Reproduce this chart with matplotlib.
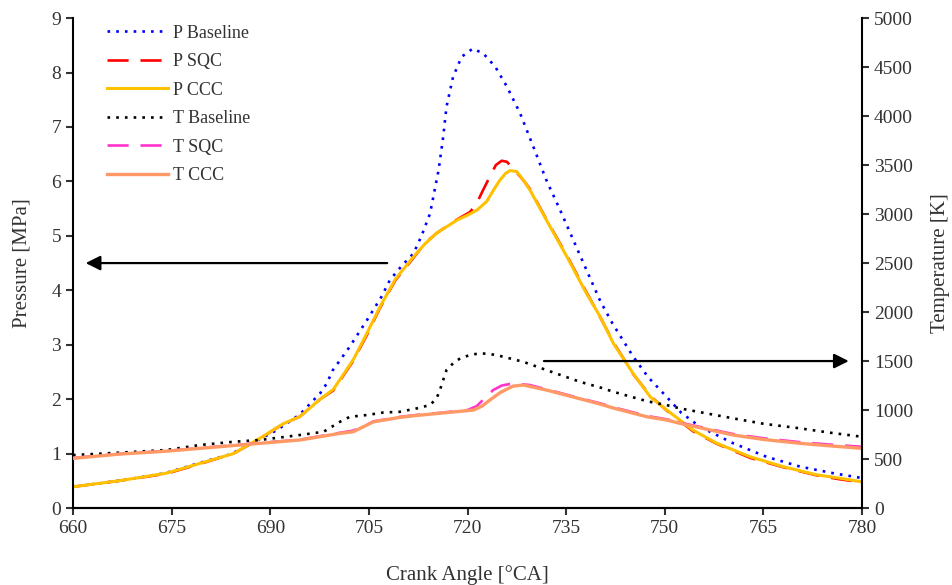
import matplotlib
matplotlib.use('Agg')
import matplotlib.pyplot as plt

plt.rcParams['font.family'] = ['Liberation Serif', 'DejaVu Serif']

# Pressure curves [MPa]
p_base_ang = [660, 667, 674, 679, 684, 691, 694.5, 697.6, 698.6, 699.5, 702, 704.7, 706.9, 708.2,
              710, 711.8, 713, 714.3, 715.6, 716.3, 716.8, 717.8, 719.1, 720.8, 722.4, 724.2,
              726, 728, 730, 732, 734.1, 736.1, 738.1, 740.2, 742, 745.2, 747.5, 750.3, 752.5,
              755.4, 760.4, 765.5, 770.6, 775.6, 780]
p_base = [0.39, 0.50, 0.64, 0.82, 0.99, 1.43, 1.72, 2.11, 2.29, 2.53, 2.95, 3.45, 3.88, 4.19,
          4.45, 4.68, 5.00, 5.41, 6.21, 6.82, 7.37, 7.92, 8.29, 8.44, 8.35, 8.11,
          7.74, 7.25, 6.64, 6.02, 5.47, 4.92, 4.37, 3.80, 3.40, 2.78, 2.40, 2.04, 1.75,
          1.49, 1.19, 0.94, 0.76, 0.64, 0.55]

p_ccc_ang = [660, 667, 674.2, 679.3, 684.4, 688.4, 692, 694.5, 697.6, 699.6, 702.6, 704.7, 706.7,
             709, 711.8, 713.5, 715.3, 718.4, 720, 721.4, 722.9, 724, 724.9, 725.8, 726.5,
             727.5, 728.5, 729.5, 732, 735.1, 738.1, 740.2, 742.2, 745.2, 747.8, 750.3,
             754.3, 757.9, 763, 768, 773.1, 776.5, 780]
p_ccc = [0.39, 0.50, 0.64, 0.82, 1.00, 1.28, 1.55, 1.68, 2.00, 2.18, 2.72, 3.21, 3.70,
         4.20, 4.62, 4.85, 5.05, 5.29, 5.38, 5.47, 5.63, 5.85, 6.02, 6.15, 6.20,
         6.18, 6.02, 5.84, 5.29, 4.62, 3.94, 3.51, 3.02, 2.47, 2.04, 1.80,
         1.43, 1.19, 0.94, 0.76, 0.61, 0.55, 0.48]

p_sqc_ang = [660, 667, 674.2, 679.3, 684.4, 688.4, 692, 694.5, 697.6, 699.6, 702.6, 704.7, 706.7,
             709, 711.8, 713.5, 715.3, 718.4, 720.4, 721.4, 722.4, 723.4, 724.3, 725.2, 726,
             726.8, 727.5, 728.5, 729.5, 732, 735.1, 738.1, 740.2, 742.2, 745.2, 747.8, 750.3,
             754.3, 757.9, 763, 768, 773.1, 776.5, 780]
p_sqc = [0.39, 0.50, 0.63, 0.81, 1.00, 1.27, 1.55, 1.68, 2.00, 2.16, 2.70, 3.18, 3.68,
         4.18, 4.60, 4.86, 5.05, 5.30, 5.44, 5.60, 5.85, 6.09, 6.30, 6.38, 6.36,
         6.25, 6.16, 6.02, 5.86, 5.30, 4.64, 3.96, 3.50, 3.04, 2.46, 2.06, 1.79,
         1.41, 1.18, 0.92, 0.75, 0.60, 0.53, 0.47]

# Temperature curves [K]
t_base_ang = [660, 667, 674.2, 679.3, 684.4, 688.4, 694.5, 698.1, 700.6, 702.1, 704.7, 707.2,
              709.7, 712.3, 714.3, 715.3, 715.8, 716.8, 718, 718.9, 720.5, 721.9, 723, 724.4,
              728.5, 732, 737.1, 740.2, 742.2, 747.3, 750.3, 752.3, 760.4, 765, 770.6, 775, 780]
t_base = [540, 565, 592, 643, 676, 694, 745, 778, 880, 931, 949, 975,
          982, 1017, 1051, 1120, 1204, 1408, 1490, 1527, 1565, 1578, 1575, 1561,
          1492, 1408, 1288, 1230, 1186, 1090, 1050, 1017, 915, 860, 813, 770, 727]

t_ccc_ang = [660, 667, 674.2, 679.3, 688.4, 694.5, 700.6, 702.6, 704.7, 705.7, 709.7, 712.3,
             715.6, 720.9, 722.2, 723.4, 725, 726.9, 728.5, 732, 737.1, 740.2, 742.2, 747.3,
             750.3, 752.3, 760.4, 765, 770.6, 775, 780]
t_ccc = [507, 550, 580, 609, 660, 694, 762, 778, 847, 880, 925, 945,
         966, 1000, 1040, 1102, 1180, 1244, 1255, 1204, 1115, 1060, 1020, 931,
         898, 864, 745, 700, 660, 635, 609]

t_sqc_ang = [660, 667, 674.2, 679.3, 688.4, 694.5, 700.6, 702.6, 704.7, 705.7, 709.7, 712.3,
             715.6, 720, 721.4, 722.6, 723.9, 725.2, 726.9, 729.5, 732, 737.1, 740.2, 742.2,
             747.3, 750.3, 752.3, 760.4, 765, 770.6, 775, 780]
t_sqc = [510, 552, 582, 612, 664, 698, 768, 790, 850, 884, 930, 950,
         970, 1000, 1040, 1120, 1204, 1250, 1272, 1255, 1212, 1120, 1068, 1028,
         940, 905, 872, 755, 712, 672, 648, 625]

fig, ax = plt.subplots(figsize=(9.52, 5.85), dpi=100)
fig.subplots_adjust(left=0.0767, right=0.9055, bottom=0.1316, top=0.969)
ax2 = ax.twinx()

l1, = ax.plot(p_base_ang, p_base, color='#0000FF', lw=1.9, linestyle=(0, (1, 2.3)), label='P Baseline')
l2, = ax.plot(p_sqc_ang, p_sqc, color='#FF0000', lw=1.9, linestyle=(0, (8, 4.5)), label='P SQC')
l3, = ax.plot(p_ccc_ang, p_ccc, color='#FFC000', lw=2.2, label='P CCC')
l4, = ax2.plot(t_base_ang, t_base, color='black', lw=1.9, linestyle=(0, (1, 2.3)), label='T Baseline')
l5, = ax2.plot(t_sqc_ang, t_sqc, color='#FF33CC', lw=1.9, linestyle=(0, (8, 4.5)), label='T SQC')
l6, = ax2.plot(t_ccc_ang, t_ccc, color='#FF9966', lw=2.4, label='T CCC')

ax.set_xlim(660, 780)
ax.set_ylim(0, 9)
ax2.set_ylim(0, 5000)
ax.set_xticks(range(660, 781, 15))
ax.set_yticks(range(0, 10))
ax2.set_yticks(range(0, 5001, 500))

for a in (ax, ax2):
    a.spines['top'].set_visible(False)
    for s in a.spines.values():
        s.set_linewidth(1.5)
    a.tick_params(direction='out', length=5, width=1.5, labelsize=14, colors='#333333', labelcolor='#333333')
ax.spines['right'].set_visible(False)
ax2.spines['left'].set_visible(False)

ax.set_xlabel('Crank Angle [°CA]', fontsize=15, color='#333333', labelpad=20)
ax.set_ylabel('Pressure [MPa]', fontsize=15, color='#333333', labelpad=14)
ax2.set_ylabel('Temperature [K]', fontsize=15, color='#333333', labelpad=13)

# arrows pointing to each axis
ax.annotate('', xy=(661.5, 4.5), xytext=(708.2, 4.5),
            arrowprops=dict(arrowstyle='-|>', color='black', lw=1.6, mutation_scale=22))
ax2.annotate('', xy=(778.4, 1500), xytext=(731.2, 1500),
             arrowprops=dict(arrowstyle='-|>', color='black', lw=1.6, mutation_scale=22))

ax2.legend(handles=[l1, l2, l3, l4, l5, l6], loc='upper left', bbox_to_anchor=(0.112, 0.958),
           bbox_transform=fig.transFigure, frameon=False, fontsize=13, handlelength=3.4,
           handletextpad=0.3, labelspacing=0.64, borderpad=0, borderaxespad=0,
           labelcolor='#333333')

fig.savefig('out.png', dpi=100)
